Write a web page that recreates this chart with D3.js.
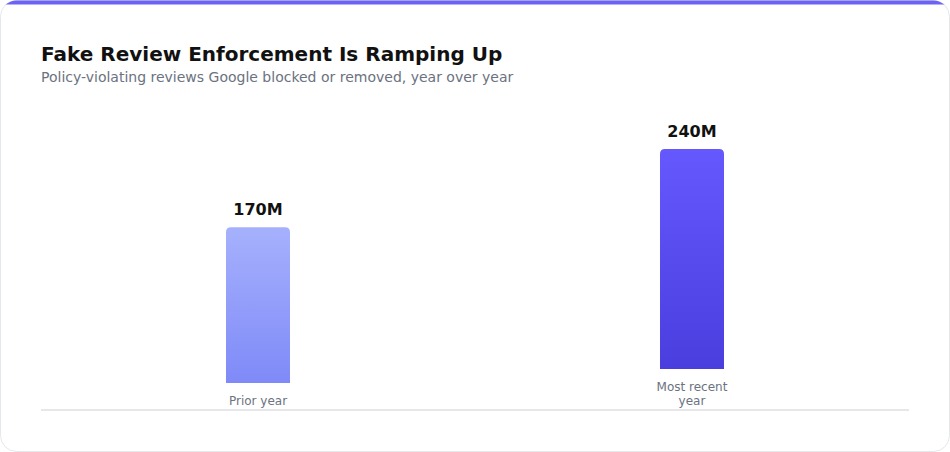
<!DOCTYPE html>
<html>
<head>
<meta charset="utf-8">
<script src="https://cdn.jsdelivr.net/npm/d3@7"></script>
<style>
  html, body { margin: 0; padding: 0; background: #ffffff; }
  svg { display: block; font-family: "DejaVu Sans", sans-serif; }
</style>
</head>
<body>
<svg id="chart" width="950" height="452"></svg>
<script>
const categories = ["Prior year", "Most recent year"];
const values = [170, 240];
const valueLabels = ["170M", "240M"];
const title = "Fake Review Enforcement Is Ramping Up";
const subtitle = "Policy-violating reviews Google blocked or removed, year over year";

const W = 950, H = 452;
const svg = d3.select("#chart");
const defs = svg.append("defs");

defs.append("clipPath").attr("id", "cardClip")
  .append("rect").attr("x", 0.5).attr("y", 0.5).attr("width", W - 1).attr("height", H - 1).attr("rx", 16);

const grads = [["g0", "#a6b1fd", "#7f8af8"], ["g1", "#6558fd", "#4b3edf"]];
grads.forEach(([id, c0, c1]) => {
  const g = defs.append("linearGradient").attr("id", id).attr("x1", 0).attr("y1", 0).attr("x2", 0).attr("y2", 1);
  g.append("stop").attr("offset", "0%").attr("stop-color", c0);
  g.append("stop").attr("offset", "100%").attr("stop-color", c1);
});

svg.append("rect").attr("x", 0.5).attr("y", 0.5).attr("width", W - 1).attr("height", H - 1)
  .attr("rx", 16).attr("fill", "#ffffff").attr("stroke", "#e5e7eb");
svg.append("g").attr("clip-path", "url(#cardClip)")
  .append("rect").attr("x", 0).attr("y", 0).attr("width", W).attr("height", 4.5).attr("fill", "#6b63f6");

svg.append("text").attr("x", 41).attr("y", 60.5).attr("font-size", 20).attr("font-weight", "bold")
  .attr("fill", "#111111").text(title);
svg.append("text").attr("x", 41).attr("y", 81.5).attr("font-size", 14)
  .attr("fill", "#6b7280").text(subtitle);

const left = 41, right = 909, baseY = 409;
const x = d3.scaleBand().domain(categories).range([left, right]).paddingInner(0).paddingOuter(0);
const y = d3.scaleLinear().domain([0, 240]).range([0, 220]);
const barW = 64;

svg.append("line").attr("x1", left).attr("x2", right).attr("y1", baseY + 1).attr("y2", baseY + 1)
  .attr("stroke", "#e5e7eb").attr("stroke-width", 2);

function wrapWords(text, maxW, fontSize) {
  const tmp = svg.append("text").attr("font-size", fontSize).attr("visibility", "hidden");
  const words = text.split(" ");
  const lines = [];
  let cur = "";
  words.forEach(w => {
    const t = cur ? cur + " " + w : w;
    tmp.text(t);
    if (tmp.node().getComputedTextLength() > maxW && cur) { lines.push(cur); cur = w; }
    else cur = t;
  });
  if (cur) lines.push(cur);
  tmp.remove();
  return lines;
}

const g = svg.append("g");
categories.forEach((c, i) => {
  const cx = x(c) + x.bandwidth() / 2;
  const lines = wrapWords(c, 80, 12);
  const lh = 14;
  const lastBase = baseY - 4;
  const lbl = g.append("text").attr("text-anchor", "middle").attr("font-size", 12).attr("fill", "#6b7280");
  lines.forEach((ln, k) => {
    lbl.append("tspan").attr("x", cx).attr("y", lastBase - (lines.length - 1 - k) * lh).text(ln);
  });
  const barBottom = baseY - 12 - lines.length * lh;
  const h = y(values[i]);
  const top = barBottom - h;
  const r = 5;
  const x0 = cx - barW / 2, x1 = cx + barW / 2;
  const p = `M${x0},${barBottom} L${x0},${top + r} Q${x0},${top} ${x0 + r},${top} L${x1 - r},${top} Q${x1},${top} ${x1},${top + r} L${x1},${barBottom} Z`;
  g.append("path").attr("d", p).attr("fill", `url(#g${i})`);
  g.append("text").attr("x", cx).attr("y", top - 12).attr("text-anchor", "middle")
    .attr("font-size", 16).attr("font-weight", "bold").attr("fill", "#111111").text(valueLabels[i]);
});
</script>
</body>
</html>
